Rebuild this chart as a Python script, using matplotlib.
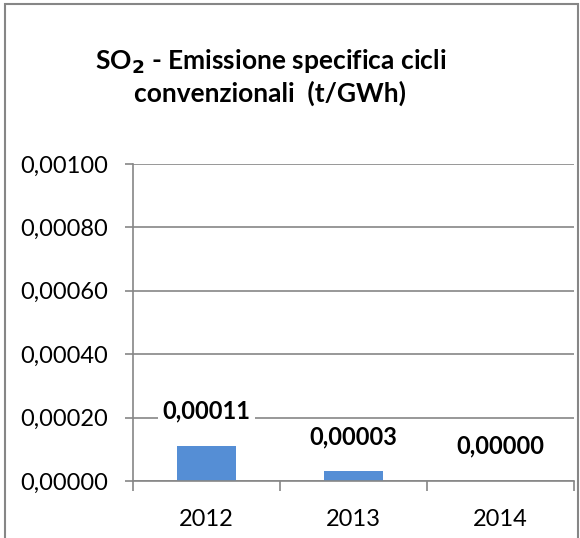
import matplotlib.pyplot as plt
from matplotlib.patches import Rectangle
from matplotlib.ticker import FuncFormatter

# emissione specifica SO2 per anno
anni = ['2012', '2013', '2014']
emissione = [0.00011, 0.00003, 0.0]
y_ticks = [0.0, 0.0002, 0.0004, 0.0006, 0.0008, 0.0010]

plt.rcParams['font.family'] = ['Lato', 'DejaVu Sans']

fig = plt.figure(figsize=(5.8, 5.38), dpi=100)
ax = fig.add_axes([0.229, 0.106, 0.761, 0.589])

grey = '#868686'
x = range(len(anni))
ax.bar(x, emissione, width=0.4, color='#558ed5', zorder=2)

ax.set_xlim(-0.5, len(anni) - 0.5)
ax.set_ylim(0, 0.001)
ax.set_yticks(y_ticks)
ax.yaxis.set_major_formatter(FuncFormatter(lambda v, p: f'{v:.5f}'.replace('.', ',')))
ax.set_xticks(list(x))
ax.set_xticklabels(anni)
ax.set_xticks([-0.5, 0.5, 1.5, 2.5], minor=True)

ax.grid(axis='y', color=grey, linewidth=1.2, zorder=0)
for s in ['top', 'right']:
    ax.spines[s].set_visible(False)
for s in ['left', 'bottom']:
    ax.spines[s].set_color(grey)
    ax.spines[s].set_linewidth(1.2)

ax.tick_params(axis='y', length=6, color=grey, width=1.2, labelsize=17, pad=12)
ax.tick_params(axis='x', which='major', length=0, labelsize=17, pad=20)
ax.tick_params(axis='x', which='minor', length=7, color=grey, width=1.2)

# etichette dei valori sopra le barre
for i, v in enumerate(emissione):
    ax.annotate(f'{v:.5f}'.replace('.', ','), (i, v), xytext=(0, 25),
                textcoords='offset points', ha='center', va='center',
                fontsize=17, fontweight='bold', zorder=3,
                bbox=dict(facecolor='white', edgecolor='none', pad=3))

fig.text(0.466, 0.857, 'SO$_\\mathbf{2}$ - Emissione specifica cicli\nconvenzionali  (t/GWh)',
         ha='center', va='center', fontsize=19, fontweight='bold', linespacing=1.2)

# bordo dell'area del grafico
fig.patches.append(Rectangle((5 / 580, -0.05), 573 / 580, 1.05 - 4 / 538,
                             transform=fig.transFigure, fill=False,
                             edgecolor=grey, linewidth=1.5))

fig.savefig('out.png', dpi=100)
